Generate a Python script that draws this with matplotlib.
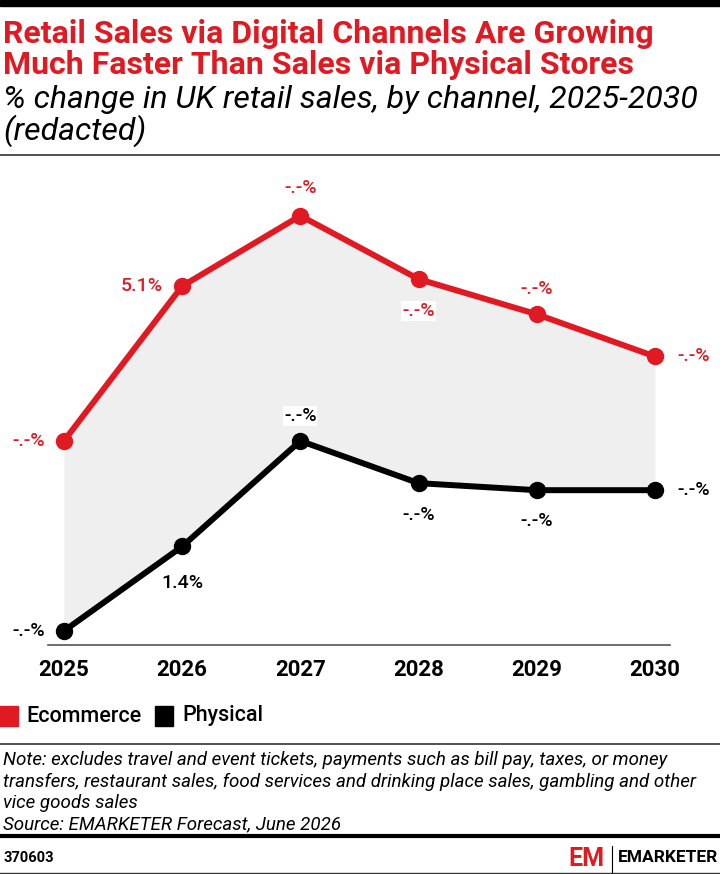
import matplotlib.pyplot as plt
from matplotlib.patches import Rectangle

# data
years = [2025, 2026, 2027, 2028, 2029, 2030]
ecommerce = [2.9, 5.1, 6.1, 5.2, 4.7, 4.1]
physical = [0.2, 1.4, 2.9, 2.3, 2.2, 2.2]
ecom_labels = ['-.-%', '5.1%', '-.-%', '-.-%', '-.-%', '-.-%']
phys_labels = ['-.-%', '1.4%', '-.-%', '-.-%', '-.-%', '-.-%']

RED = '#e01a22'
W, H = 720, 874

plt.rcParams['font.family'] = ['Roboto', 'DejaVu Sans']

fig = plt.figure(figsize=(W / 100, H / 100), dpi=100)


def fx(px):
    return px / W


def fy(py):
    return 1 - py / H


# axes area in pixels: x 48..670, y 170..645
ax = fig.add_axes([fx(48), fy(645), fx(670 - 48), (645 - 170) / H])
ax.set_xlim(2024.865, 2030.127)
ax.set_ylim(0, 6.75)

ax.fill_between(years, physical, ecommerce, color='#efefef', lw=0)
ax.plot(years, ecommerce, color=RED, lw=4.3, marker='o', ms=11.5, solid_capstyle='round')
ax.plot(years, physical, color='black', lw=4.3, marker='o', ms=11.5, solid_capstyle='round')

lab_font = dict(fontsize=14, fontweight='medium')
# (dx pts, dy pts, ha) per point
ecom_pos = [(-14, 0, 'right'), (-14, 0, 'right'), (0, 20, 'center'),
            (0, -23, 'center'), (0, 18, 'center'), (16, 0, 'left')]
phys_pos = [(-14, 0, 'right'), (0, -26.5, 'center'), (0, 18, 'center'),
            (0, -23, 'center'), (0, -22, 'center'), (16, 0, 'left')]
for i, (x, y) in enumerate(zip(years, ecommerce)):
    dx, dy, ha = ecom_pos[i]
    t = ax.annotate(ecom_labels[i], (x, y), xytext=(dx, dy), textcoords='offset points',
                    ha=ha, va='center', color=RED, annotation_clip=False, **lab_font)
    if i == 3:
        t.set_bbox(dict(facecolor='white', edgecolor='none', pad=0.5))
for i, (x, y) in enumerate(zip(years, physical)):
    dx, dy, ha = phys_pos[i]
    t = ax.annotate(phys_labels[i], (x, y), xytext=(dx, dy), textcoords='offset points',
                    ha=ha, va='center', color='black', annotation_clip=False, **lab_font)
    if i == 2:
        t.set_bbox(dict(facecolor='white', edgecolor='none', pad=0.5))

for s in ['top', 'right', 'left']:
    ax.spines[s].set_visible(False)
ax.spines['bottom'].set_color('#555555')
ax.spines['bottom'].set_linewidth(1.2)
ax.set_yticks([])
ax.set_xticks(years)
ax.set_xticklabels([str(y) for y in years], fontsize=16, fontweight='bold')
ax.tick_params(axis='x', length=0, pad=10)
ax.patch.set_alpha(0)

# header
fig.patches.append(Rectangle((0, fy(6)), 1, 6 / H, transform=fig.transFigure,
                             color='black', zorder=5))
fig.text(fx(3), fy(34), 'Retail Sales via Digital Channels Are Growing', color=RED,
         fontsize=23, fontweight='bold', va='center')
fig.text(fx(3), fy(65), 'Much Faster Than Sales via Physical Stores', color=RED,
         fontsize=23, fontweight='bold', va='center')
fig.text(fx(3), fy(100), '% change in UK retail sales, by channel, 2025-2030', color='black',
         fontsize=23, style='italic', fontweight='normal', va='center')
fig.text(fx(3), fy(131), '(redacted)', color='black',
         fontsize=23, style='italic', fontweight='normal', va='center')
fig.add_artist(plt.Line2D([0, 1], [fy(155), fy(155)], color='#333333', lw=1.2))

# legend
fig.patches.append(Rectangle((fx(0), fy(726)), fx(18), 20 / H, transform=fig.transFigure,
                             color=RED))
fig.text(fx(26), fy(716), 'Ecommerce', fontsize=15.5, fontweight='medium', va='center')
fig.patches.append(Rectangle((fx(155), fy(726)), fx(18), 20 / H, transform=fig.transFigure,
                             color='black'))
fig.text(fx(182), fy(716), 'Physical', fontsize=15.5, fontweight='medium', va='center')

# note
fig.add_artist(plt.Line2D([0, 1], [fy(744), fy(744)], color='#333333', lw=1.2))
note = ['Note: excludes travel and event tickets, payments such as bill pay, taxes, or money',
        'transfers, restaurant sales, food services and drinking place sales, gambling and other',
        'vice goods sales',
        'Source: EMARKETER Forecast, June 2026']
for k, line in enumerate(note):
    fig.text(fx(3), fy(760 + k * 21.6), line, fontsize=13.5, style='italic',
             fontweight='normal', va='center')

# footer
fig.add_artist(plt.Line2D([0, 1], [fy(836), fy(836)], color='black', lw=3))
fig.text(fx(3), fy(858), '370603', fontsize=10.5, fontweight='bold', va='center')
fig.text(fx(568), fy(859), 'EM', fontsize=18, fontweight='bold', color=RED,
         va='center', ha='left')
fig.add_artist(plt.Line2D([fx(612), fx(612)], [fy(846), fy(872)], color='black', lw=0.8))
fig.text(fx(618), fy(858), 'EMARKETER', fontsize=12.5, fontweight='bold', va='center')
fig.add_artist(plt.Line2D([0, 1], [fy(873), fy(873)], color='#333333', lw=1))

fig.savefig('out.png', dpi=100)
